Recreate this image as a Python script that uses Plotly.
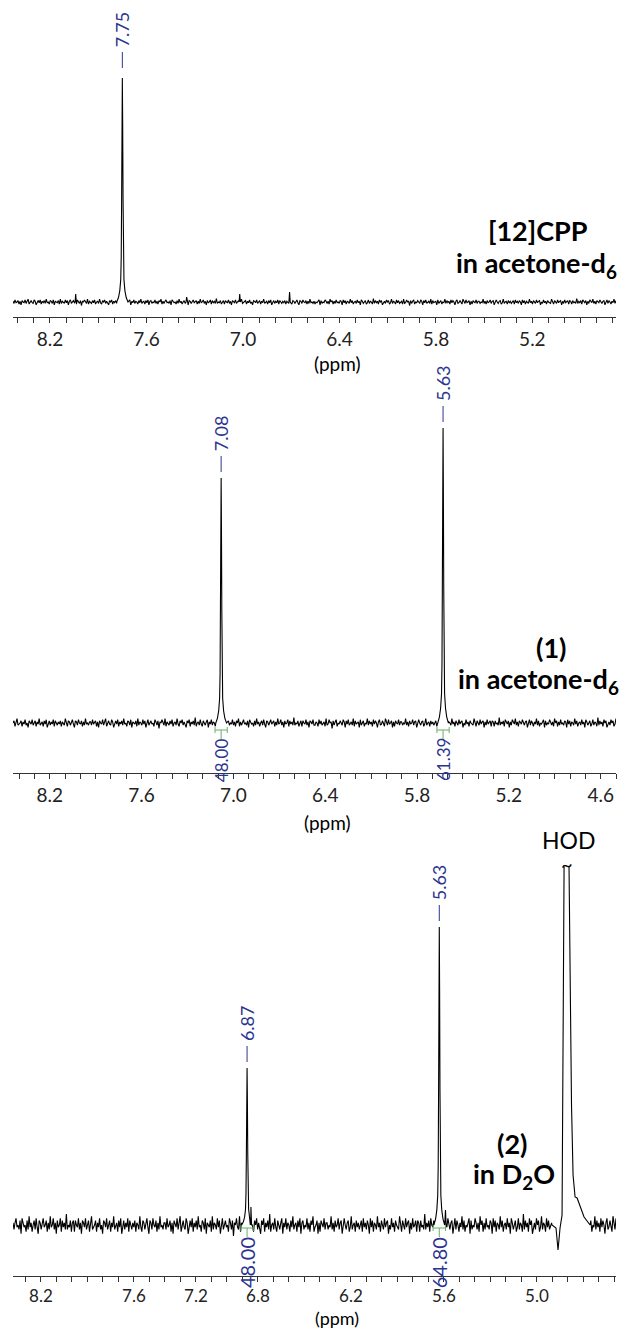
import numpy as np
import plotly.graph_objects as go

W, H = 630, 1331

# ---------------- data ----------------
# panel 1 : [12]CPP in acetone-d6
p1_range = [8.43, 4.68]
p1_ticks = [8.2, 7.6, 7.0, 6.4, 5.8, 5.2]
p1_peak_ppm = [7.75]
p1_peak_height = [224]
p1_peak_labels = ["7.75"]
p1_spike_ppm = [8.04, 7.35, 7.02, 6.71]
p1_spike_height = [8, 5, 8, 10]

# panel 2 : (1) in acetone-d6
p2_range = [8.44, 4.50]
p2_ticks = [8.2, 7.6, 7.0, 6.4, 5.8, 5.2, 4.6]
p2_peak_ppm = [7.08, 5.63]
p2_peak_height = [245, 295]
p2_peak_labels = ["7.08", "5.63"]
p2_integrals = ["48.00", "61.39"]

# panel 3 : (2) in D2O
p3_range = [8.38, 4.49]
p3_ticks = [8.2, 7.6, 7.2, 6.8, 6.2, 5.6, 5.0]
p3_peak_ppm = [6.87, 5.63]
p3_peak_height = [157, 298]
p3_peak_labels = ["6.87", "5.63"]
p3_integrals = ["48.00", "64.80"]
p3_spike_ppm = [6.845, 5.59]
p3_spike_height = [18, 15]
hod_ppm = [4.903, 4.877, 4.864, 4.851, 4.838, 4.832, 4.825,
           4.793, 4.786, 4.777, 4.767, 4.754, 4.741, 4.722, 4.696, 4.657]
hod_height = [0, -3, -25, -3, 10, 150, 358,
              358, 250, 120, 50, 28, 27, 18, 8, 0]
hod_break = 7  # the truncated top sits between index 6 and 7

# peak line shape (ppm offset, fraction of height)
profile_off = [-0.035, -0.024, -0.016, -0.010, -0.007, -0.0045, -0.002, 0.0,
               0.002, 0.0045, 0.007, 0.010, 0.016, 0.024, 0.035]
profile_frac = [0.0, 0.02, 0.05, 0.1, 0.2, 0.45, 0.8, 1.0,
                0.8, 0.45, 0.2, 0.1, 0.05, 0.02, 0.0]
spike_off = [-0.004, 0.0, 0.004]
spike_frac = [0.0, 1.0, 0.0]

# baseline noise, read as relative levels along the trace
noise = [1,-2,3,-1,0,2,-3,1,-4,2,0,-1,3,-2,1,4,-3,0,2,-1,-2,3,1,-4,0,2,-1,3,-3,1,
         -1,2,-2,4,-1,0,-3,2,1,-2,3,-4,1,0,-1,2,-3,4,-2,1,0,-2,3,-1,2,-4,1,3,-2,0,
         2,-1,0,-3,3,1,-2,2,-5,1,0,3,-1,-2,4,-3,1,0,-2,2,-1,3,-3,0,1,-2,4,-1,-3,2,
         0,3,-2,1,-1,-4,2,0,3,-3,1,-1,2,-2,5,-3,0,1,-2,3,-1,-3,2,0,-2,1,3,-4,1,-1,
         3,-2,1,0,-3,2,-1,4,-2,0,1,-3,2,-1,3,-4,1,2,-2,0,-1,3,-2,1,-3,2,0,4,-3,1,
         -2,1,3,-1,0,-2,2,-4,3,1,-1,0,-3,2,-2,4,-1,1,-3,0,2,-2,3,-1,-4,2,1,-2,0,3,
         -1,0,2,-3,1,-2,4,-1,0,3,-2,1,-4,2,-1,0,3,-3,2,-1,1,-2,5,-2,0,-1,2,-3,1,2,
         -3,2,0,-1,3,-2,1,-4,2,1,-1,3,-2,0,2,-3,1,4,-2,-1,0,2,-3,1,-1,3,-2,0,-4,2,
         1,-1,3,-2,0,2,-3,1,-1,4,-2,0,1,-3,2,-1,3,-4,0,2,-2,1,-1,3,-3,2,0,-2,1,-1,
         2,-3,1,0,-2,4,-1,-3,2,1,-2,0,3,-1,-4,2,1,-2,3,0,-1,2,-3,1,-2,4,-1,0,-2,1]

# ---------------- styles ----------------
NAVY = "#2b3590"
GREEN = "#6aae6a"
AX = "#333333"
FONT = "Lato"


def spectrum(rng, peaks, heights, spikes, spike_h, amp, shift, exclude=None):
    base = np.array(noise, dtype=float)
    trace_noise = np.concatenate([np.roll(base, shift), np.roll(base, shift + 137)[::-1]]) * amp
    xs = np.linspace(rng[0], rng[1], len(trace_noise))
    pts = []
    for x, n in zip(xs, trace_noise):
        if any(abs(x - p) < 0.035 for p in peaks):
            continue
        if any(abs(x - p) < 0.004 for p in spikes):
            continue
        if exclude and exclude[1] <= x <= exclude[0]:
            continue
        pts.append((x, n))
    for p, h in zip(peaks, heights):
        for o, f in zip(profile_off, profile_frac):
            pts.append((p + o, h * f))
    for p, h in zip(spikes, spike_h):
        for o, f in zip(spike_off, spike_frac):
            pts.append((p + o, h * f))
    pts.sort(key=lambda t: -t[0])
    return [p[0] for p in pts], [p[1] for p in pts]


fig = go.Figure()
line = dict(color="black", width=1.1)

x1, y1 = spectrum(p1_range, p1_peak_ppm, p1_peak_height, p1_spike_ppm, p1_spike_height, 0.7, 0)
fig.add_trace(go.Scatter(x=x1, y=y1, mode="lines", line=line, xaxis="x", yaxis="y"))

x2, y2 = spectrum(p2_range, p2_peak_ppm, p2_peak_height, [], [], 1.1, 77)
fig.add_trace(go.Scatter(x=x2, y=y2, mode="lines", line=line, xaxis="x2", yaxis="y2"))

x3, y3 = spectrum(p3_range, p3_peak_ppm, p3_peak_height, p3_spike_ppm, p3_spike_height,
                  2.2, 151, exclude=(hod_ppm[0], hod_ppm[-1]))
before = [(a, b) for a, b in zip(x3, y3) if a > hod_ppm[0]]
after = [(a, b) for a, b in zip(x3, y3) if a < hod_ppm[-1]]
x3f = [a for a, _ in before] + hod_ppm[:hod_break] + [None] + hod_ppm[hod_break:] + [a for a, _ in after]
y3f = [b for _, b in before] + hod_height[:hod_break] + [None] + hod_height[hod_break:] + [b for _, b in after]
fig.add_trace(go.Scatter(x=x3f, y=y3f, mode="lines", line=line, xaxis="x3", yaxis="y3",
                         connectgaps=False))

shapes = []
annos = []


def peak_labels(xr, yr, ppm, heights, labels, extra=0):
    for p, h, t in zip(ppm, heights, labels):
        annos.append(dict(x=p, y=h + 45 + extra, xref=xr, yref=yr, text=t, textangle=-90,
                          showarrow=False, font=dict(family=FONT, size=18, color=NAVY),
                          xanchor="center", yanchor="middle"))
        shapes.append(dict(type="line", xref=xr, yref=yr, x0=p, x1=p,
                           y0=h + 6 + extra, y1=h + 22 + extra, line=dict(color=NAVY, width=1)))


def integrals(xr, yr, ppm, labels, ybar, ylab, size):
    for p, t in zip(ppm, labels):
        g = dict(color=GREEN, width=1)
        shapes.append(dict(type="line", xref=xr, yref=yr, x0=p - 0.04, x1=p + 0.04, y0=ybar, y1=ybar, line=g))
        shapes.append(dict(type="line", xref=xr, yref=yr, x0=p - 0.04, x1=p - 0.04, y0=ybar - 3, y1=ybar + 3, line=g))
        shapes.append(dict(type="line", xref=xr, yref=yr, x0=p + 0.04, x1=p + 0.04, y0=ybar - 3, y1=ybar + 3, line=g))
        shapes.append(dict(type="line", xref=xr, yref=yr, x0=p, x1=p, y0=ybar, y1=ybar - 9, line=g))
        annos.append(dict(x=p, y=ylab, xref=xr, yref=yr, text=t, textangle=-90,
                          showarrow=False, font=dict(family=FONT, size=size, color=NAVY),
                          xanchor="center", yanchor="middle"))


peak_labels("x", "y", p1_peak_ppm, p1_peak_height, p1_peak_labels, extra=4)
peak_labels("x2", "y2", p2_peak_ppm, p2_peak_height, p2_peak_labels)
peak_labels("x3", "y3", p3_peak_ppm, p3_peak_height, p3_peak_labels)
integrals("x2", "y2", p2_peak_ppm, p2_integrals, -7, -37, 17)
integrals("x3", "y3", p3_peak_ppm, p3_integrals, -3, -38, 20)

# HOD break mark on the truncated top
hod_top = (hod_ppm[hod_break - 1] + hod_ppm[hod_break]) / 2
annos.append(dict(x=hod_top, y=hod_height[hod_break] + 3, xref="x3", yref="y3", text="~",
                  showarrow=False, font=dict(family=FONT, size=20, color="black"),
                  xanchor="center", yanchor="middle"))


def px(xp, yp):
    return xp / W, 1 - yp / H


def title(text, xp, yp, size=27, anchor="center"):
    xx, yy = px(xp, yp)
    annos.append(dict(x=xx, y=yy, xref="paper", yref="paper", text=text, showarrow=False,
                      font=dict(family=FONT, size=size, color="black"),
                      xanchor=anchor, yanchor="middle"))


title("<b>[12]CPP</b>", 538, 230)
title("<b>in acetone-d<sub>6</sub></b>", 619, 265, anchor="right")
title("<b>(1)</b>", 551, 647)
title("<b>in acetone-d<sub>6</sub></b>", 621, 680, anchor="right")
title("<b>(2)</b>", 512, 1143)
title("<b>in D<sub>2</sub>O</b>", 514, 1175)
title("HOD", 568, 840, size=23)
title("(ppm)", 337, 363, size=19)
title("(ppm)", 327, 822, size=19)
title("(ppm)", 337, 1318, size=18)


def xaxis(rng, ticks, anchor, size):
    return dict(range=rng, domain=[13 / W, 616 / W], anchor=anchor,
                showline=True, linecolor=AX, linewidth=1, mirror=False,
                showgrid=False, zeroline=False,
                tickmode="array", tickvals=ticks, ticktext=[f"{t:.1f}" for t in ticks],
                ticks="outside", ticklen=5, tickcolor=AX, tickwidth=1,
                tickfont=dict(family=FONT, size=size, color="#222222"),
                minor=dict(dtick=0.1, tick0=0, ticks="outside", ticklen=5, tickcolor=AX, tickwidth=1,
                           showgrid=False),
                ticklabelstandoff=0, fixedrange=True)


def yaxis(top_px, bot_px, base_px):
    return dict(domain=[1 - bot_px / H, 1 - top_px / H],
                range=[-(bot_px - base_px), base_px - top_px],
                visible=False, fixedrange=True)


fig.update_layout(
    width=W, height=H, margin=dict(l=0, r=0, t=0, b=0),
    paper_bgcolor="white", plot_bgcolor="white", showlegend=False,
    xaxis=xaxis(p1_range, p1_ticks, "y", 19),
    yaxis=yaxis(0, 317, 302),
    xaxis2=xaxis(p2_range, p2_ticks, "y2", 19),
    yaxis2=yaxis(330, 773, 723),
    xaxis3=xaxis(p3_range, p3_ticks, "y3", 17),
    yaxis3=yaxis(835, 1276, 1225),
    shapes=shapes, annotations=annos,
)

fig.write_html("out.html", config={"displayModeBar": False},
               post_script="document.body.style.margin='0';")
